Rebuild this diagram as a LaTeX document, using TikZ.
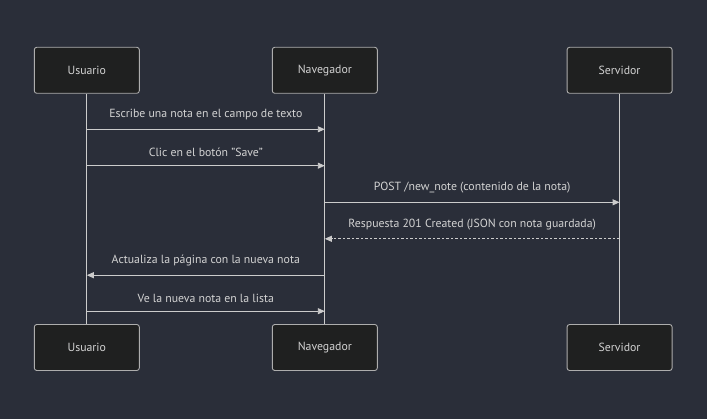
\documentclass[tikz,border=0pt]{standalone}
\usepackage{fontspec}
\setmainfont{PT Sans}
\usetikzlibrary{arrows.meta}
\definecolor{bgc}{HTML}{2A2E39}
\definecolor{boxc}{HTML}{1F2020}
\definecolor{linec}{HTML}{CCCCCC}
\definecolor{txtc}{HTML}{D3D3D3}
\begin{document}
\begin{tikzpicture}[x=1pt,y=-1pt,
  actor/.style={draw=linec!85!black,fill=boxc,rounded corners=2.5pt,line width=0.9pt,
    minimum width=105pt,minimum height=46pt,inner sep=0pt,text=txtc,
    font=\fontsize{11.8}{14}\selectfont},
  life/.style={draw=linec,line width=0.9pt},
  msg/.style={draw=linec,line width=0.9pt,-{Triangle[length=7pt,width=6pt]}},
  lbl/.style={text=txtc,font=\fontsize{11.8}{14}\selectfont,inner sep=0pt}]
\fill[bgc] (0,0) rectangle (707,419);
\useasboundingbox (0,0) rectangle (707,419);
% actors
\node[actor] (u1) at (86.8,70.3) {Usuario};
\node[actor] (n1) at (324.8,70.3) {Navegador};
\node[actor] (s1) at (619.6,70.3) {Servidor};
\node[actor] (u2) at (86.8,347.5) {Usuario};
\node[actor] (n2) at (324.8,347.5) {Navegador};
\node[actor] (s2) at (619.6,347.5) {Servidor};
% lifelines
\draw[life] (u1) -- (u2);
\draw[life] (n1) -- (n2);
\draw[life] (s1) -- (s2);
% message anchors
\coordinate (a1) at (u1 |- 0,129.3); \coordinate (b1) at (n1 |- 0,129.3);
\coordinate (a2) at (u1 |- 0,165.7); \coordinate (b2) at (n1 |- 0,165.7);
\coordinate (a3) at (n1 |- 0,202.3); \coordinate (b3) at (s1 |- 0,202.3);
\coordinate (a4) at (s1 |- 0,238.8); \coordinate (b4) at (n1 |- 0,238.8);
\coordinate (a5) at (n1 |- 0,275.2); \coordinate (b5) at (u1 |- 0,275.2);
\coordinate (a6) at (u1 |- 0,311.2); \coordinate (b6) at (n1 |- 0,311.2);
% messages
\draw[msg] (a1) -- (b1) node[lbl,midway,above=8.5pt] (t1) {Escribe una nota en el campo de texto};
\draw[msg] (a2) -- (b2) node[lbl,midway,above=8.5pt] (t2) {Clic en el botón "Save"};
\draw[msg] (a3) -- (b3) node[lbl,midway,above=8.5pt] (t3) {POST /new\_note (contenido de la nota)};
\draw[msg,dash pattern=on 2.5pt off 2pt] (a4) -- (b4) node[lbl,midway,above=8.5pt] (t4) {Respuesta 201 Created (JSON con nota guardada)};
\draw[msg] (a5) -- (b5) node[lbl,midway,above=8.5pt] (t5) {Actualiza la página con la nueva nota};
\draw[msg] (a6) -- (b6) node[lbl,midway,above=8.5pt] (t6) {Ve la nueva nota en la lista};
\end{tikzpicture}
\end{document}
